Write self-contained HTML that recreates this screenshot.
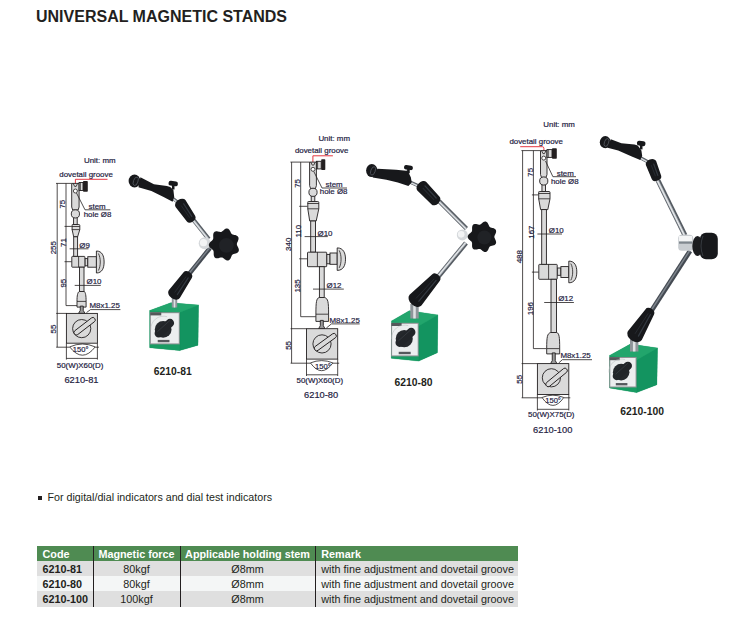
<!DOCTYPE html>
<html><head><meta charset="utf-8">
<style>
html,body{margin:0;padding:0;background:#fff;width:737px;height:621px;overflow:hidden;position:relative;font-family:"Liberation Sans",sans-serif;}
.abs{position:absolute;white-space:nowrap;}
#title{left:36px;top:6.6px;font-size:16px;font-weight:700;color:#231f20;line-height:19px;}
#bullet{left:38px;top:496px;width:4px;height:4px;background:#231f20;}
#btext{left:47.5px;top:490.7px;font-size:10.7px;color:#231f20;line-height:13px;}
.th{font-size:10.8px;font-weight:700;color:#fff;line-height:15px;margin-top:1px;}
.td{font-size:10.8px;color:#231f20;line-height:15px;margin-top:1px;}
.b{font-weight:700;}
svg{position:absolute;left:0;top:0;}
.t{font-family:"Liberation Sans",sans-serif;fill:#24223f;stroke:#24223f;stroke-width:0.2px;}
.tb{font-family:"Liberation Sans",sans-serif;font-weight:700;fill:#231f20;}
.ln{stroke:#231f20;stroke-width:0.8;fill:none;}
.pt{fill:#dadada;stroke:#231f20;stroke-width:0.9;}
.dk{fill:#231f20;}
</style></head><body>
<div id="title" class="abs">UNIVERSAL MAGNETIC STANDS</div>
<svg width="737" height="621" viewBox="0 0 737 621">
<text class="t" x="84" y="162.8" style="font-size:7.9px" >Unit: mm</text>
<text class="t" x="59.3" y="176.8" style="font-size:7.9px" >dovetail groove</text>
<path d="M75.4,185V179.3H107.5" stroke="#e3232c" stroke-width="0.9" fill="none"/>
<path class="ln" d="M56,183.4H71.7 M57.2,183.4V347.2 M66,183.4V305.6 M66,305.6H77 M56.2,313.4H66.4 M56.2,347.2H69.7 M95.2,347.2H98.9 M64.5,226.4H71.8 M64.5,261.7H71.8 M66.4,343.2V359.6 M97.4,343.2V359.6 M66.4,358.4H97.4"/>
<path class="pt" d="M71.7,183.4H79.1V207L78.1,210H72.7L71.7,207Z"/>
<rect class="pt" x="79.1" y="182.5" width="3.9" height="8"/>
<path class="ln" d="M80.3,182.5V190.5"/>
<rect class="dk" x="83" y="181.1" width="4.8" height="10.6" rx="0.8"/>
<path class="ln" d="M73.2,183.4L74.6,186.4H76.2L77.6,183.4"/>
<circle cx="75.4" cy="191" r="2" fill="#fff" stroke="#231f20" stroke-width="0.8"/>
<rect class="pt" x="73.6" y="216.9" width="3.6" height="7.6"/>
<circle class="pt" cx="75.4" cy="213.9" r="4.1"/>
<path class="pt" d="M73.7,236.8L72.1,229.6V225.5Q71.8,224.5 72.8,224.5H78.8Q79.8,224.5 79.8,225.5V229.6L77.6,236.8Z"/>
<path class="ln" d="M71.8,226.5H79.8 M71.8,229.6H79.8" stroke-width="0.7"/>
<rect class="pt" x="73.7" y="236.8" width="3.9" height="19.6"/>
<rect class="pt" x="84.9" y="258.6" width="2.9" height="7.2"/>
<rect class="pt" x="87.8" y="256.7" width="8.6" height="10.5"/>
<path class="pt" d="M96.4,251C102.17,251 104.1,256 104.1,262C104.1,268 102.17,273 96.4,273Z"/>
<path class="ln" d="M98.4,253.5C100.9,258 100.9,266 98.4,270.5" stroke-width="0.7"/>
<rect class="pt" x="71.8" y="256.4" width="13.1" height="10.8" rx="0.6"/>
<path class="ln" d="M78.6,256.4V267.2"/>
<rect class="pt" x="79.5" y="267.2" width="4.5" height="24.3"/>
<path class="pt" d="M79.2,291.5H84.3C85.5,292.5 86.1,295.5 86.1,301.4V307.1H77V301.4C77,295.5 77.6,292.5 79.2,291.5Z"/>
<path class="ln" d="M77,301.4H86.1"/>
<path class="pt" d="M80.25,306.1V310.4L78.55,313.4H84.95L83.25,310.4V306.1Z" style="fill:#9a9a9a"/>
<rect class="pt" x="66.4" y="313.4" width="31" height="29.8" stroke-width="1.1"/>
<circle cx="81.7" cy="328.6" r="9.1" fill="none" stroke="#231f20" stroke-width="0.9"/>
<rect x="74.5" y="331.6" width="25.46" height="4.8" rx="2.2" transform="rotate(-37.5 74.5 334)" fill="#dadada" stroke="#231f20" stroke-width="0.9"/>
<path class="ln" d="M69.7,346.9Q82.45,341.1 95.2,346.9 M69.7,346.9Q82.45,363.5 95.2,346.9" stroke-width="0.9"/>
<path class="ln" d=" M76.5,193L85,209.8H110.3 M86.5,312.6L90.5,309.6H120.4 M69.6,248.8H88.5 M74.7,285.4H100.8"/>
<text class="t" x="72.8" y="352.4" style="font-size:7.6px" >150°</text>
<text class="t" x="56.8" y="368.3" style="font-size:7.9px" >50(W)X60(D)</text>
<text class="t" x="64.4" y="382.9" style="font-size:9.3px" >6210-81</text>
<text class="t" x="79.3" y="248" style="font-size:7.9px" >Ø9</text>
<text class="t" x="86.5" y="283.6" style="font-size:7.9px" >Ø10</text>
<text class="t" x="88.5" y="208.9" style="font-size:7.9px" >stem</text>
<text class="t" x="83.7" y="216.5" style="font-size:7.9px" >hole Ø8</text>
<text class="t" x="89.5" y="308.1" style="font-size:7.9px" >M8x1.25</text>
<text class="t" transform="translate(64.94,204.2) rotate(-90)" text-anchor="middle" style="font-size:7.9px">75</text>
<text class="t" transform="translate(56.24,247.7) rotate(-90)" text-anchor="middle" style="font-size:7.9px">255</text>
<text class="t" transform="translate(65.54,242.6) rotate(-90)" text-anchor="middle" style="font-size:7.9px">71</text>
<text class="t" transform="translate(65.54,283.2) rotate(-90)" text-anchor="middle" style="font-size:7.9px">95</text>
<text class="t" transform="translate(55.84,329.1) rotate(-90)" text-anchor="middle" style="font-size:7.9px">55</text>
<text class="t" x="318.4" y="140.7" style="font-size:7.9px" >Unit: mm</text>
<text class="t" x="294.9" y="152.5" style="font-size:7.9px" >dovetail groove</text>
<path d="M312.9,162.5V155.8H332.9" stroke="#e3232c" stroke-width="0.9" fill="none"/>
<path class="ln" d="M290.4,162.1H309.6 M291.6,162.1V363.2 M300.7,162.1V316.7 M300.7,316.7H315.9 M290.6,328.7H306.5 M290.6,363.2H310.4 M332.9,363.2H339.2 M299.2,206.3H307.5 M299.2,258.8H307.5 M306.5,359.1V376 M337.7,359.1V376 M306.5,374.8H337.7"/>
<path class="pt" d="M309.6,162.1H316.4V185.6L315.4,188.6H310.6L309.6,185.6Z"/>
<rect class="pt" x="316.4" y="161.3" width="4.8" height="7.6"/>
<path class="ln" d="M317.6,161.3V168.9"/>
<rect class="dk" x="321.2" y="159.3" width="4.1" height="10.8" rx="0.8"/>
<path class="ln" d="M310.8,162.1L312.2,165.1H313.8L315.2,162.1"/>
<circle cx="313" cy="169.3" r="2" fill="#fff" stroke="#231f20" stroke-width="0.8"/>
<rect class="pt" x="311.2" y="195.3" width="3.6" height="6.2"/>
<circle class="pt" cx="313" cy="192.3" r="4.1"/>
<path class="pt" d="M309.7,221L307.8,208.8V202.5Q307.5,201.5 308.5,201.5H317.8Q318.8,201.5 318.8,202.5V208.8L316.2,221Z"/>
<path class="ln" d="M307.5,203.5H318.8 M307.5,208.8H318.8" stroke-width="0.7"/>
<rect class="pt" x="310.7" y="221" width="4.8" height="31.2"/>
<rect class="pt" x="326.7" y="254.4" width="3.3" height="9.4"/>
<rect class="pt" x="330" y="253" width="7.2" height="11.3"/>
<path class="pt" d="M337.2,247.9C343.43,247.9 345.5,253.15 345.5,259.15C345.5,265.15 343.43,270.4 337.2,270.4Z"/>
<path class="ln" d="M339.2,250.4C341.7,255.15 341.7,263.15 339.2,267.9" stroke-width="0.7"/>
<rect class="pt" x="307.5" y="252.2" width="19.2" height="14.5" rx="0.6"/>
<path class="ln" d="M317.4,252.2V266.7"/>
<rect class="pt" x="319.4" y="266.7" width="4.8" height="30.8"/>
<path class="pt" d="M319.1,297.5H324.5C328,298.5 328.6,301.5 328.6,314.2V321.4H315.9V314.2C315.9,301.5 316.5,298.5 319.1,297.5Z"/>
<path class="ln" d="M315.9,314.2H328.6"/>
<path class="pt" d="M320.3,320.4V325.7L318.6,328.7H325L323.3,325.7V320.4Z" style="fill:#9a9a9a"/>
<rect class="pt" x="306.5" y="328.7" width="31.2" height="30.4" stroke-width="1.1"/>
<circle cx="322" cy="343.9" r="9.1" fill="none" stroke="#231f20" stroke-width="0.9"/>
<rect x="314.8" y="347.3" width="25.92" height="4.8" rx="2.2" transform="rotate(-35.9 314.8 349.7)" fill="#dadada" stroke="#231f20" stroke-width="0.9"/>
<path class="ln" d="M310.4,362.9Q321.65,358.3 332.9,362.9 M310.4,362.9Q321.65,378.5 332.9,362.9" stroke-width="0.9"/>
<path class="ln" d=" M313.8,171.5L322,188H347 M326.4,328L331.4,323.9H359.7 M304.6,236.6H327.8 M313,289.1H343.8"/>
<text class="t" x="315" y="368.6" style="font-size:7.6px" >150°</text>
<text class="t" x="296.6" y="383" style="font-size:7.9px" >50(W)X60(D)</text>
<text class="t" x="304.1" y="397.5" style="font-size:9.3px" >6210-80</text>
<text class="t" x="317.5" y="235.6" style="font-size:7.9px" >Ø10</text>
<text class="t" x="326.6" y="287.7" style="font-size:7.9px" >Ø12</text>
<text class="t" x="325.5" y="186.6" style="font-size:7.9px" >stem</text>
<text class="t" x="319.8" y="194.3" style="font-size:7.9px" >hole Ø8</text>
<text class="t" x="329.5" y="322.5" style="font-size:7.9px" >M8x1.25</text>
<text class="t" transform="translate(299.94,183.4) rotate(-90)" text-anchor="middle" style="font-size:7.9px">75</text>
<text class="t" transform="translate(290.84,244.3) rotate(-90)" text-anchor="middle" style="font-size:7.9px">340</text>
<text class="t" transform="translate(300.94,231.2) rotate(-90)" text-anchor="middle" style="font-size:7.9px">110</text>
<text class="t" transform="translate(299.94,286) rotate(-90)" text-anchor="middle" style="font-size:7.9px">135</text>
<text class="t" transform="translate(290.84,345.4) rotate(-90)" text-anchor="middle" style="font-size:7.9px">55</text>
<text class="t" x="543.3" y="126.7" style="font-size:7.9px" >Unit: mm</text>
<text class="t" x="509.4" y="143.8" style="font-size:7.9px" >dovetail groove</text>
<path d="M520.2,146.7H542.4Q543.9,146.7 543.9,148.5V151" stroke="#e3232c" stroke-width="0.9" fill="none"/>
<path class="ln" d="M521.4,150.6H540.5 M522.6,150.6V397.8 M533.4,150.6V348.6 M533.4,348.6H546.7 M521.6,363.6H537.4 M521.6,397.8H542 M563.8,397.8H570.3 M531.9,194.9H538.4 M531.9,272.1H538.8 M537.4,394.5V410.5 M568.8,394.5V410.5 M537.4,409.3H568.8"/>
<path class="pt" d="M540.5,150.6H547V174.5L546,177.5H541.5L540.5,174.5Z"/>
<rect class="pt" x="547" y="149.6" width="5" height="7.8"/>
<path class="ln" d="M548.2,149.6V157.4"/>
<rect class="dk" x="552" y="148.2" width="4.8" height="10.5" rx="0.8"/>
<path class="ln" d="M541.55,150.6L542.95,153.6H544.55L545.95,150.6"/>
<circle cx="543.75" cy="158.1" r="2" fill="#fff" stroke="#231f20" stroke-width="0.8"/>
<rect class="pt" x="541.95" y="184" width="3.6" height="7.5"/>
<circle class="pt" cx="543.75" cy="181" r="4.1"/>
<path class="pt" d="M540.6,209.6L538.7,198.8V192.5Q538.4,191.5 539.4,191.5H549Q550,191.5 550,192.5V198.8L547.8,209.6Z"/>
<path class="ln" d="M538.4,193.5H550 M538.4,198.8H550" stroke-width="0.7"/>
<rect class="pt" x="541.7" y="209.6" width="4.7" height="54.8"/>
<rect class="pt" x="557.2" y="268" width="3.7" height="7.3"/>
<rect class="pt" x="560.9" y="266.6" width="7.9" height="10.9"/>
<path class="pt" d="M568.8,261.1C574.8,261.1 576.8,265.95 576.8,271.95C576.8,277.95 574.8,282.8 568.8,282.8Z"/>
<path class="ln" d="M570.8,263.6C573.3,267.95 573.3,275.95 570.8,280.3" stroke-width="0.7"/>
<rect class="pt" x="538.8" y="264.4" width="18.4" height="14.9" rx="0.6"/>
<path class="ln" d="M548.6,264.4V279.3"/>
<rect class="pt" x="551" y="279.3" width="5.5" height="53.2"/>
<path class="pt" d="M550.7,332.5H556.8C559.1,333.5 559.7,336.5 559.7,348.6V353.9H546.7V348.6C546.7,336.5 547.3,333.5 550.7,332.5Z"/>
<path class="ln" d="M546.7,348.6H559.7"/>
<path class="pt" d="M552.25,352.9V360.6L550.55,363.6H556.95L555.25,360.6V352.9Z" style="fill:#9a9a9a"/>
<rect class="pt" x="537.4" y="363.6" width="31.4" height="30.9" stroke-width="1.1"/>
<circle cx="551.4" cy="377.8" r="9.1" fill="none" stroke="#231f20" stroke-width="0.9"/>
<rect x="546.4" y="383.4" width="26.29" height="4.8" rx="2.2" transform="rotate(-39.44 546.4 385.8)" fill="#dadada" stroke="#231f20" stroke-width="0.9"/>
<path class="ln" d="M542,397.5Q552.9,392.9 563.8,397.5 M542,397.5Q552.9,413.3 563.8,397.5" stroke-width="0.9"/>
<path class="ln" d=" M545.5,161L552.9,176.7H576 M558.7,363L562.3,359.7H592 M537.4,234H562 M544.2,302.5H573.9"/>
<text class="t" x="545.2" y="403.2" style="font-size:7.6px" >150°</text>
<text class="t" x="528" y="417.4" style="font-size:7.9px" >50(W)X75(D)</text>
<text class="t" x="533.1" y="433.1" style="font-size:9.3px" >6210-100</text>
<text class="t" x="548.8" y="232.5" style="font-size:7.9px" >Ø10</text>
<text class="t" x="558.2" y="300.7" style="font-size:7.9px" >Ø12</text>
<text class="t" x="556.7" y="175.5" style="font-size:7.9px" >stem</text>
<text class="t" x="550.9" y="183.6" style="font-size:7.9px" >hole Ø8</text>
<text class="t" x="560.4" y="358.3" style="font-size:7.9px" >M8x1.25</text>
<text class="t" transform="translate(533.24,172.3) rotate(-90)" text-anchor="middle" style="font-size:7.9px">75</text>
<text class="t" transform="translate(521.64,256.7) rotate(-90)" text-anchor="middle" style="font-size:7.9px">488</text>
<text class="t" transform="translate(533.54,232.1) rotate(-90)" text-anchor="middle" style="font-size:7.9px">167</text>
<text class="t" transform="translate(533.24,308.6) rotate(-90)" text-anchor="middle" style="font-size:7.9px">196</text>
<text class="t" transform="translate(521.64,379.3) rotate(-90)" text-anchor="middle" style="font-size:7.9px">55</text>
<path d="M192,218L208.7,239" stroke="#565c63" stroke-width="4.4"/>
<path d="M191.66,218.27L208.36,239.27" stroke="#b9bec3" stroke-width="2.2"/>
<path d="M191.59,218.33L208.29,239.33" stroke="#eef0f2" stroke-width="0.88"/>
<path d="M210,248L189.5,273.5" stroke="#444a52" stroke-width="4.4"/>
<path d="M209.66,247.72L189.16,273.22" stroke="#7d848c" stroke-width="1.32"/>
<polygon points="149.7,310.5 170.9,302.7 198.5,305.1 198,345.2 179.6,350.6 149.7,347.7" fill="#139460"/>
<polygon points="179.6,312.4 198.5,305.1 198,345.2 179.6,350.6" fill="#139460" stroke="#139460" stroke-width="0.3"/>
<polygon points="149.7,310.5 179.6,312.4 179.6,350.6 149.7,347.7" fill="#189c63" stroke="#189c63" stroke-width="0.3"/>
<polygon points="149.7,310.5 170.9,302.7 198.5,305.1 179.6,312.4" fill="#22a56c" stroke="#22a56c" stroke-width="0.3"/>
<rect x="149.9" y="312.2" width="29.9" height="32.2" fill="#8e9193"/>
<rect x="150.9" y="313.2" width="27.9" height="30.2" fill="#eceeef"/>
<rect x="150.2" y="312.4" width="11.06" height="3" fill="#55585b"/>
<path d="M150.84,329.88A12.76,12.76 0 0 1 167.12,316.68" stroke="#b5b8ba" stroke-width="0.5" fill="none"/>
<circle cx="163.16" cy="329.44" r="8.36" fill="#25282c"/>
<path d="M158.76,333.4L169.94,323.02" stroke="#222529" stroke-width="8.36" stroke-linecap="round"/>
<path d="M157.44,331.64L170.2,320.2" stroke="#3f444a" stroke-width="0.6"/>
<rect x="157.73" y="339.9" width="11.73" height="2.35" fill="#55585c"/>
<rect x="171.8" y="295" width="5.4" height="12.5" fill="#8f959a"/><rect x="173.69" y="295" width="1.62" height="12.5" fill="#dfe2e4"/>
<path d="M173,198.5L180,204" stroke="#565c63" stroke-width="3.2"/>
<path d="M172.8,198.75L179.8,204.25" stroke="#b9bec3" stroke-width="1.6"/>
<path d="M172.76,198.8L179.76,204.3" stroke="#eef0f2" stroke-width="0.64"/>
<polygon points="140.4,177.2 153.9,184.3 166.9,185.9 170.2,187.1 173.4,190 174.2,196.9 172.6,201.8 163.6,197 151.4,191 138.4,187.2" fill="#17181b"/>
<rect x="171.9" y="185" width="2.6" height="4.5" fill="#17181b"/>
<rect x="168.5" y="181.2" width="9.4" height="4.8" rx="2.16" fill="#17181b" transform="rotate(8 173.2 183.6)"/>
<ellipse cx="134.5" cy="181" rx="5.9" ry="6.5" fill="#17181b"/>
<ellipse cx="135.7" cy="181.3" rx="2.24" ry="4.42" fill="none" stroke="#4f545b" stroke-width="0.8" transform="rotate(20 135.7 181.3)"/>
<path d="M175.56,206.91L186.89,221.54A5,3.5 145.36 0 0 195.11,215.86L185.44,200.09A6,4.2 145.36 0 0 175.56,206.91Z" fill="#17181b"/>
<path d="M183.61,203.78L191.79,216.33" stroke="#343a42" stroke-width="1.2" stroke-linecap="round"/>
<path d="M181.43,205.9L189.45,217.34" stroke="#262a30" stroke-width="1" stroke-linecap="round"/>
<path d="M183.61,272.23L168.77,290.32A6.75,4.72 -144.95 0 0 179.83,298.08L191.79,277.97A5,3.5 -144.95 0 0 183.61,272.23Z" fill="#17181b"/>
<path d="M188.19,277.89L177.37,294.52" stroke="#343a42" stroke-width="1.2" stroke-linecap="round"/>
<path d="M185.85,276.86L174.9,292.18" stroke="#262a30" stroke-width="1" stroke-linecap="round"/>
<circle cx="204.7" cy="243.3" r="6" fill="#d5d8db"/><circle cx="203.5" cy="242.7" r="3.6" fill="#f3f4f5"/>
<polygon points="236.9,244.6 236.99,245 237.13,245.4 237.32,245.82 237.54,246.26 237.78,246.72 238.02,247.2 238.26,247.7 238.48,248.22 238.66,248.74 238.79,249.27 238.86,249.8 238.86,250.31 238.78,250.8 238.63,251.27 238.41,251.7 238.11,252.09 237.75,252.44 237.34,252.74 236.88,252.99 236.39,253.21 235.89,253.38 235.37,253.53 234.87,253.66 234.38,253.78 233.92,253.9 233.5,254.03 233.11,254.19 232.76,254.38 232.46,254.61 232.19,254.88 231.95,255.21 231.74,255.58 231.55,255.99 231.36,256.45 231.16,256.93 230.96,257.44 230.74,257.94 230.49,258.44 230.21,258.92 229.9,259.35 229.55,259.74 229.17,260.06 228.76,260.3 228.32,260.47 227.86,260.56 227.39,260.56 226.9,260.48 226.42,260.32 225.95,260.11 225.48,259.84 225.04,259.53 224.61,259.2 224.2,258.86 223.81,258.54 223.43,258.23 223.07,257.97 222.71,257.75 222.35,257.58 221.99,257.47 221.62,257.42 221.23,257.43 220.82,257.49 220.39,257.58 219.94,257.71 219.46,257.86 218.96,258 218.44,258.14 217.92,258.24 217.39,258.31 216.87,258.32 216.37,258.28 215.89,258.16 215.45,257.98 215.05,257.72 214.71,257.4 214.41,257.01 214.17,256.56 213.98,256.07 213.85,255.54 213.76,254.99 213.71,254.43 213.69,253.87 213.68,253.33 213.68,252.8 213.67,252.3 213.64,251.84 213.58,251.4 213.48,251.01 213.34,250.64 213.14,250.31 212.9,249.99 212.6,249.69 212.26,249.4 211.88,249.1 211.47,248.8 211.05,248.48 210.63,248.14 210.22,247.77 209.85,247.38 209.51,246.96 209.23,246.52 209.02,246.06 208.88,245.58 208.83,245.09 208.85,244.6 208.96,244.11 209.14,243.64 209.39,243.18 209.69,242.74 210.05,242.32 210.43,241.93 210.83,241.56 211.23,241.22 211.62,240.89 211.99,240.57 212.32,240.26 212.6,239.94 212.83,239.61 213.01,239.26 213.14,238.89 213.22,238.49 213.26,238.06 213.27,237.6 213.25,237.1 213.22,236.58 213.2,236.03 213.19,235.47 213.21,234.91 213.26,234.36 213.36,233.82 213.52,233.32 213.73,232.85 214,232.44 214.33,232.09 214.71,231.8 215.13,231.59 215.6,231.44 216.1,231.36 216.61,231.34 217.14,231.37 217.67,231.44 218.2,231.54 218.7,231.66 219.19,231.77 219.65,231.87 220.09,231.95 220.51,231.98 220.89,231.97 221.26,231.9 221.62,231.78 221.97,231.59 222.31,231.36 222.66,231.07 223.02,230.75 223.39,230.4 223.78,230.04 224.19,229.68 224.62,229.35 225.06,229.05 225.53,228.8 226,228.61 226.47,228.49 226.95,228.46 227.41,228.51 227.86,228.64 228.29,228.86 228.69,229.15 229.06,229.51 229.4,229.92 229.7,230.38 229.98,230.86 230.23,231.35 230.46,231.84 230.68,232.31 230.89,232.76 231.11,233.17 231.34,233.53 231.6,233.84 231.88,234.1 232.19,234.32 232.54,234.49 232.93,234.62 233.36,234.73 233.83,234.82 234.32,234.91 234.83,235.01 235.35,235.12 235.86,235.27 236.37,235.45 236.84,235.67 237.27,235.94 237.65,236.26 237.98,236.63 238.23,237.05 238.41,237.5 238.51,237.99 238.55,238.5 238.51,239.02 238.42,239.56 238.27,240.1 238.09,240.62 237.88,241.14 237.66,241.63 237.44,242.11 237.24,242.56 237.08,243 236.95,243.41 236.88,243.81 236.86,244.21" fill="#17181b"/>
<circle cx="226.37" cy="245.42" r="7.38" fill="#202226"/>
<path d="M439,201L466.4,228.5" stroke="#565c63" stroke-width="4.5"/>
<path d="M438.68,201.32L466.08,228.82" stroke="#b9bec3" stroke-width="2.25"/>
<path d="M438.62,201.38L466.02,228.88" stroke="#eef0f2" stroke-width="0.9"/>
<path d="M466,243L438,277" stroke="#565c63" stroke-width="4.8"/>
<path d="M465.63,242.69L437.63,276.69" stroke="#b9bec3" stroke-width="2.4"/>
<path d="M465.56,242.63L437.56,276.63" stroke="#eef0f2" stroke-width="0.96"/>
<polygon points="391.6,320.9 409.3,310.7 437.8,314.9 437.4,352.7 418.7,361.1 391.3,358.3" fill="#139460"/>
<polygon points="418.7,326.1 437.8,314.9 437.4,352.7 418.7,361.1" fill="#139460" stroke="#139460" stroke-width="0.3"/>
<polygon points="391.6,320.9 418.7,326.1 418.7,361.1 391.3,358.3" fill="#189c63" stroke="#189c63" stroke-width="0.3"/>
<polygon points="391.6,320.9 409.3,310.7 437.8,314.9 418.7,326.1" fill="#22a56c" stroke="#22a56c" stroke-width="0.3"/>
<rect x="391.1" y="322.8" width="27.6" height="33.6" fill="#8e9193"/>
<rect x="392.1" y="323.8" width="25.6" height="31.6" fill="#eceeef"/>
<rect x="391.4" y="323" width="10.21" height="3" fill="#55585b"/>
<path d="M391.65,339.1A13.05,13.05 0 0 1 408.3,325.6" stroke="#b5b8ba" stroke-width="0.5" fill="none"/>
<circle cx="404.25" cy="338.65" r="8.55" fill="#25282c"/>
<path d="M399.75,342.7L411.18,332.08" stroke="#222529" stroke-width="8.55" stroke-linecap="round"/>
<path d="M398.4,340.9L411.45,329.2" stroke="#3f444a" stroke-width="0.6"/>
<rect x="398.7" y="351.8" width="12" height="2.4" fill="#55585c"/>
<rect x="410.3" y="304" width="8.4" height="14.5" fill="#8f959a"/><rect x="413.24" y="304" width="2.52" height="14.5" fill="#dfe2e4"/>
<path d="M410,182L421,187" stroke="#565c63" stroke-width="3.2"/>
<path d="M409.87,182.29L420.87,187.29" stroke="#b9bec3" stroke-width="1.6"/>
<path d="M409.84,182.35L420.84,187.35" stroke="#eef0f2" stroke-width="0.64"/>
<polygon points="377.5,168.8 396,169.8 406,170.8 407.6,170.5 410.9,177.5 411.7,182.4 408.4,186.1 397.8,182.6 386.4,179.8 372.6,177.5" fill="#17181b"/>
<rect x="407.15" y="168.8" width="2.6" height="4.5" fill="#17181b"/>
<rect x="404" y="165.3" width="8.9" height="4.5" rx="2.02" fill="#17181b" transform="rotate(8 408.45 167.55)"/>
<ellipse cx="371.8" cy="170.6" rx="5.7" ry="6.5" fill="#17181b"/>
<ellipse cx="373" cy="170.9" rx="2.17" ry="4.42" fill="none" stroke="#4f545b" stroke-width="0.8" transform="rotate(20 373 170.9)"/>
<path d="M417.29,190.52L431.63,204.41A5.5,3.85 136.22 0 0 439.57,196.79L426.31,181.88A6.25,4.38 136.22 0 0 417.29,190.52Z" fill="#17181b"/>
<path d="M424.99,185.91L436.15,197.99" stroke="#343a42" stroke-width="1.32" stroke-linecap="round"/>
<path d="M423.08,188.44L433.82,199.54" stroke="#262a30" stroke-width="1.1" stroke-linecap="round"/>
<path d="M432.3,274.24L409.57,294.83A8,5.6 -137.79 0 0 421.43,305.57L439.7,280.96A5,3.5 -137.79 0 0 432.3,274.24Z" fill="#17181b"/>
<path d="M436.14,280.43L418.88,301.24" stroke="#343a42" stroke-width="1.2" stroke-linecap="round"/>
<path d="M433.95,279.12L416.25,298.18" stroke="#262a30" stroke-width="1" stroke-linecap="round"/>
<circle cx="462.3" cy="234.9" r="5.5" fill="#d5d8db"/><circle cx="461.2" cy="234.35" r="3.3" fill="#f3f4f5"/>
<polygon points="494.36,236.8 494.38,237.17 494.46,237.55 494.58,237.94 494.75,238.35 494.95,238.77 495.16,239.22 495.38,239.68 495.6,240.16 495.79,240.66 495.94,241.16 496.05,241.67 496.1,242.17 496.09,242.66 496.01,243.13 495.85,243.57 495.63,243.97 495.34,244.33 494.99,244.65 494.58,244.93 494.14,245.15 493.67,245.34 493.18,245.5 492.69,245.62 492.21,245.73 491.74,245.83 491.3,245.93 490.89,246.04 490.52,246.18 490.19,246.35 489.89,246.56 489.63,246.81 489.4,247.11 489.18,247.46 488.99,247.85 488.79,248.27 488.6,248.73 488.39,249.2 488.17,249.68 487.92,250.14 487.64,250.58 487.33,250.99 486.99,251.35 486.62,251.64 486.22,251.86 485.8,252.01 485.36,252.08 484.91,252.06 484.45,251.97 484,251.81 483.55,251.59 483.12,251.32 482.7,251.01 482.3,250.69 481.92,250.36 481.56,250.03 481.21,249.73 480.87,249.47 480.54,249.25 480.2,249.08 479.86,248.97 479.51,248.91 479.14,248.9 478.75,248.95 478.34,249.03 477.9,249.13 477.44,249.26 476.96,249.38 476.47,249.49 475.97,249.58 475.47,249.62 474.97,249.62 474.5,249.56 474.05,249.44 473.63,249.25 473.26,249 472.94,248.68 472.67,248.3 472.45,247.87 472.29,247.39 472.17,246.89 472.1,246.36 472.07,245.83 472.06,245.3 472.07,244.78 472.08,244.28 472.09,243.8 472.07,243.36 472.03,242.95 471.95,242.57 471.82,242.21 471.64,241.89 471.42,241.58 471.14,241.29 470.83,241 470.47,240.71 470.1,240.4 469.7,240.09 469.31,239.75 468.94,239.39 468.59,239.01 468.28,238.6 468.03,238.17 467.84,237.72 467.72,237.27 467.68,236.8 467.72,236.33 467.83,235.87 468.01,235.43 468.26,235 468.57,234.59 468.91,234.2 469.29,233.84 469.68,233.51 470.07,233.19 470.45,232.89 470.81,232.6 471.13,232.31 471.41,232.01 471.64,231.71 471.82,231.39 471.95,231.04 472.04,230.66 472.09,230.25 472.1,229.81 472.1,229.34 472.09,228.84 472.08,228.32 472.09,227.79 472.12,227.25 472.19,226.73 472.3,226.22 472.46,225.75 472.67,225.31 472.94,224.93 473.26,224.6 473.63,224.34 474.04,224.15 474.49,224.02 474.96,223.96 475.46,223.96 475.96,224 476.46,224.09 476.95,224.2 477.43,224.32 477.89,224.45 478.33,224.56 478.75,224.64 479.14,224.69 479.51,224.69 479.86,224.63 480.2,224.52 480.54,224.36 480.87,224.15 481.21,223.88 481.56,223.59 481.92,223.27 482.3,222.94 482.7,222.61 483.12,222.31 483.55,222.03 484,221.81 484.45,221.64 484.91,221.55 485.36,221.53 485.8,221.59 486.22,221.73 486.62,221.95 486.99,222.24 487.34,222.59 487.65,222.99 487.93,223.44 488.18,223.9 488.4,224.38 488.61,224.85 488.8,225.31 489,225.74 489.19,226.13 489.4,226.48 489.63,226.78 489.89,227.04 490.19,227.26 490.52,227.43 490.88,227.57 491.29,227.69 491.73,227.79 492.19,227.89 492.67,227.99 493.16,228.12 493.65,228.27 494.12,228.46 494.57,228.68 494.97,228.96 495.33,229.27 495.62,229.63 495.85,230.03 496.01,230.47 496.1,230.93 496.12,231.42 496.07,231.92 495.96,232.43 495.81,232.93 495.62,233.43 495.41,233.91 495.18,234.38 494.97,234.82 494.77,235.25 494.6,235.65 494.47,236.05 494.39,236.43" fill="#17181b"/>
<circle cx="484.37" cy="237.58" r="7.02" fill="#202226"/>
<path d="M658,180.5L685,235.3" stroke="#565c63" stroke-width="5"/>
<path d="M657.55,180.72L684.55,235.52" stroke="#b9bec3" stroke-width="2.5"/>
<path d="M657.46,180.77L684.46,235.57" stroke="#eef0f2" stroke-width="1"/>
<path d="M690,251L651,311.5" stroke="#444a52" stroke-width="4.8"/>
<path d="M689.6,250.74L650.6,311.24" stroke="#7d848c" stroke-width="1.44"/>
<polygon points="609.6,355.4 630.4,344.1 657.5,348 656.9,384.7 636.6,392.6 609.6,388" fill="#139460"/>
<polygon points="636.6,359.9 657.5,348 656.9,384.7 636.6,392.6" fill="#139460" stroke="#139460" stroke-width="0.3"/>
<polygon points="609.6,355.4 636.6,359.9 636.6,392.6 609.6,388" fill="#189c63" stroke="#189c63" stroke-width="0.3"/>
<polygon points="609.6,355.4 630.4,344.1 657.5,348 636.6,359.9" fill="#22a56c" stroke="#22a56c" stroke-width="0.3"/>
<rect x="609.3" y="357" width="27.3" height="30.5" fill="#8e9193"/>
<rect x="610.3" y="358" width="25.3" height="28.5" fill="#eceeef"/>
<rect x="609.6" y="357.2" width="10.1" height="3" fill="#55585b"/>
<path d="M608.99,372.57A12.61,12.61 0 0 1 625.08,359.52" stroke="#b5b8ba" stroke-width="0.5" fill="none"/>
<circle cx="621.17" cy="372.13" r="8.26" fill="#25282c"/>
<path d="M616.82,376.05L627.86,365.78" stroke="#222529" stroke-width="8.26" stroke-linecap="round"/>
<path d="M615.51,374.31L628.12,363" stroke="#3f444a" stroke-width="0.6"/>
<rect x="615.8" y="383.05" width="11.6" height="2.32" fill="#55585c"/>
<rect x="630" y="331" width="8.4" height="20.5" fill="#8f959a"/><rect x="632.94" y="331" width="2.52" height="20.5" fill="#dfe2e4"/>
<path d="M639,157L650,163" stroke="#565c63" stroke-width="3.2"/>
<path d="M638.85,157.28L649.85,163.28" stroke="#b9bec3" stroke-width="1.6"/>
<path d="M638.82,157.34L649.82,163.34" stroke="#eef0f2" stroke-width="0.64"/>
<polygon points="610.8,139.3 621.4,143.3 634.5,144.5 637.7,145.5 641.4,150.4 642.2,156.1 640.2,160.1 631.2,156.3 618.2,150.6 607.6,147.8" fill="#17181b"/>
<rect x="639.9" y="144.9" width="2.6" height="4.5" fill="#17181b"/>
<rect x="636.9" y="141" width="8.6" height="4.9" rx="2.21" fill="#17181b" transform="rotate(8 641.2 143.45)"/>
<ellipse cx="605.3" cy="142.2" rx="5.5" ry="6.1" fill="#17181b"/>
<ellipse cx="606.5" cy="142.5" rx="2.09" ry="4.15" fill="none" stroke="#4f545b" stroke-width="0.8" transform="rotate(20 606.5 142.5)"/>
<path d="M645.86,164.95L651.83,179.27A5,3.5 159.23 0 0 661.17,175.73L656.14,161.05A5.5,3.85 159.23 0 0 645.86,164.95Z" fill="#17181b"/>
<path d="M653.77,164.09L657.84,175.39" stroke="#343a42" stroke-width="1.2" stroke-linecap="round"/>
<path d="M651.37,165.53L655.32,175.81" stroke="#262a30" stroke-width="1" stroke-linecap="round"/>
<path d="M645.57,309.13L627.82,331.2A8.25,5.77 -147.78 0 0 641.78,340L654.03,314.47A5,3.5 -147.78 0 0 645.57,309.13Z" fill="#17181b"/>
<path d="M650.43,314.56L638.39,336.09" stroke="#343a42" stroke-width="1.2" stroke-linecap="round"/>
<path d="M648.04,313.65L635.17,333.47" stroke="#262a30" stroke-width="1" stroke-linecap="round"/>
<rect x="678.2" y="234.7" width="15" height="16" rx="3.5" fill="#c9cdd1"/><rect x="679" y="236" width="13" height="5.5" fill="#f4f5f6"/><rect x="679" y="241.5" width="13" height="2.2" fill="#7f878e"/>
<ellipse cx="697.5" cy="246" rx="5.2" ry="10" fill="#1c1d20"/>
<rect x="700" y="232.8" width="17.8" height="26.5" rx="6" fill="#17181b"/>
<path d="M703,236Q699,246 703,256" stroke="#3a3e44" stroke-width="0.9" fill="none"/>
<text class="tb" x="153.8" y="374.9" style="font-size:10.35px">6210-81</text>
<text class="tb" x="394.6" y="385.6" style="font-size:10.35px">6210-80</text>
<text class="tb" x="620.3" y="414.9" style="font-size:10.35px">6210-100</text>
</svg>
<div id="bullet" class="abs"></div>
<div id="btext" class="abs">For digital/dial indicators and dial test indicators</div>
<div class="abs" style="left:37px;top:546px;width:481px;height:14.6px;background:#4f8b52"></div>
<div class="abs" style="left:37px;top:560.6px;width:481px;height:15.3px;background:#dfdfdf"></div>
<div class="abs" style="left:37px;top:575.9px;width:481px;height:15.1px;background:#f4f6f6"></div>
<div class="abs" style="left:37px;top:591px;width:481px;height:15.5px;background:#dfdfdf"></div>
<div class="abs" style="left:93px;top:546px;width:1px;height:60.5px;background:#231f20"></div>
<div class="abs" style="left:180px;top:546px;width:1px;height:60.5px;background:#231f20"></div>
<div class="abs" style="left:315px;top:546px;width:1px;height:60.5px;background:#231f20"></div>
<div class="th abs" style="left:42.5px;top:546px">Code</div>
<div class="th abs" style="left:93px;width:87px;text-align:center;top:546px">Magnetic force</div>
<div class="th abs" style="left:180px;width:135px;text-align:center;top:546px">Applicable holding stem</div>
<div class="th abs" style="left:321.3px;top:546px">Remark</div>
<div class="td abs b" style="left:42.5px;top:561px">6210-81</div>
<div class="td abs b" style="left:42.5px;top:576px">6210-80</div>
<div class="td abs b" style="left:42.5px;top:591px">6210-100</div>
<div class="td abs" style="left:93px;width:87px;text-align:center;top:561px">80kgf</div>
<div class="td abs" style="left:93px;width:87px;text-align:center;top:576px">80kgf</div>
<div class="td abs" style="left:93px;width:87px;text-align:center;top:591px">100kgf</div>
<div class="td abs" style="left:180px;width:135px;text-align:center;top:561px">Ø8mm</div>
<div class="td abs" style="left:180px;width:135px;text-align:center;top:576px">Ø8mm</div>
<div class="td abs" style="left:180px;width:135px;text-align:center;top:591px">Ø8mm</div>
<div class="td abs" style="left:321.3px;top:561px">with fine adjustment and dovetail groove</div>
<div class="td abs" style="left:321.3px;top:576px">with fine adjustment and dovetail groove</div>
<div class="td abs" style="left:321.3px;top:591px">with fine adjustment and dovetail groove</div>
</body></html>
